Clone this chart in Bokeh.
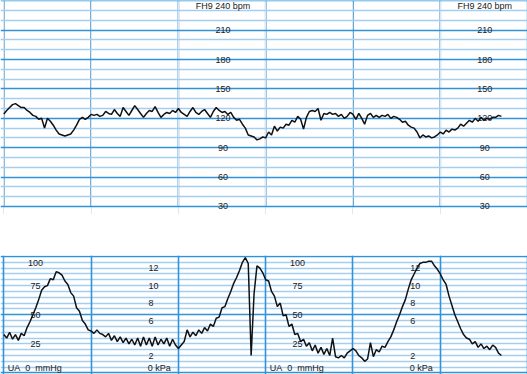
import numpy as np
from bokeh.plotting import figure
from bokeh.models import Grid, FixedTicker, Range1d, ColumnDataSource
from bokeh.layouts import column
from bokeh.embed import file_html
from bokeh.resources import INLINE
from bokeh.core.properties import value

# ---------------- data ----------------
SAMPLE_SECONDS = 2  # one reading every 2 s

# fetal heart rate (bpm), t = 0 .. 342 s
fhr_bpm = [
    124.5, 128, 131, 134, 135, 133, 131, 131, 128, 126, 123, 122, 119, 120, 110, 120,
    117, 113, 108, 104, 103, 102, 103, 104, 108, 113, 119, 121, 119, 121, 124,
    123, 124, 122, 123, 127, 125, 124, 129, 125, 122, 131, 127, 123, 128, 133,
    129, 125, 121, 125, 128, 127, 132, 126, 121, 124, 126, 125, 128, 126, 130,
    126, 124, 122, 127, 131, 126, 124, 127, 129, 125, 121, 127, 131, 128, 126,
    127, 124, 126, 121, 118, 119, 114, 110, 103, 102, 101, 98, 99, 101, 100,
    106, 103, 112, 107, 111, 110, 114, 113, 118, 116, 122, 119, 109, 121, 127,
    128, 127, 130, 118, 125, 124, 126, 124, 125, 122, 124, 120, 122, 126, 124,
    119, 125, 120, 114, 123, 125, 121, 123, 121, 123, 122, 124, 120, 122, 121,
    119, 116, 117, 113, 111, 110, 106, 100, 103, 101, 102, 100, 101, 103, 106,
    104, 108, 106, 109, 108, 110, 114, 112, 115, 118, 116, 120, 117, 121, 118,
    120, 119, 121, 121, 123, 122,
]

# uterine activity (mmHg), t = 0 .. 342 s
ua_mmhg = [
    33, 30, 35, 29, 33, 28, 34, 32, 39, 44, 50, 56, 63, 71, 74, 75,
    81, 80, 87, 86, 84, 79, 76, 69, 66, 56, 53, 45, 42, 37, 36,
    34, 37, 34, 33, 31, 34, 28, 32, 27, 31, 26, 30, 25, 29, 24,
    30, 23, 31, 24, 30, 23, 31, 24, 29, 25, 30, 23, 29, 24, 21,
    24, 27, 37, 31, 35, 32, 37, 34, 39, 36, 42, 40, 47, 48, 56,
    57, 64, 70, 77, 82, 88, 95, 99, 94, 15, 68, 92, 90, 86, 80,
    79, 70, 66, 57, 60, 49, 50, 40, 42, 33, 34, 27, 29, 23, 26,
    19, 24, 17, 22, 16, 21, 15, 30, 14, 13, 15, 13, 17, 19, 21,
    19, 15, 13, 10, 12, 26, 14, 20, 18, 23, 22, 27, 31, 37, 44,
    50, 57, 63, 72, 80, 85, 90, 94, 95, 95, 96, 96, 92, 89, 85,
    80, 76, 66, 58, 50, 44, 38, 33, 30, 29, 25, 27, 22, 25, 21,
    23, 20, 24, 22, 17, 15,
]

fhr_major = [30, 60, 90, 120, 150, 180, 210, 240]
fhr_minor = [40, 50, 70, 80, 100, 110, 130, 140, 160, 170, 190, 200, 220, 230]
fhr_label_values = [210, 180, 150, 120, 90, 60, 30]
fhr_title = "FH9 240 bpm"

ua_major = [0, 50, 100]
ua_minor = [5, 10, 15, 20, 25, 30, 35, 40, 45, 55, 60, 65, 70, 75, 80, 85, 90, 95]
ua_mmhg_labels = [100, 75, 50, 25]
ua_kpa_labels = [12, 10, 8, 6, 2]
ua_mmhg_title = "UA\u00a0\u00a00\u00a0\u00a0mmHg"
ua_kpa_title = "0 kPa"
KPA_TO_MMHG = 7.5

minute_lines = [0, 1, 2, 3, 4, 5, 6]
label_repeat_minutes = [0, 3]  # scale labels repeat every 3 minutes

# ---------------- style ----------------
MAJOR = "#2f93dc"
MINOR = "#a3cdf1"
TRACE = "#111111"
TXT = "#1a1a1a"
FONT = value("Liberation Sans")
FS = "9px"
W = 527

t_fhr = np.arange(len(fhr_bpm)) * SAMPLE_SECONDS / 60.0
t_ua = np.arange(len(ua_mmhg)) * SAMPLE_SECONDS / 60.0
x_range = Range1d(-0.0378, 5.9989)


def base_fig(height, y0, y1, top_border=0):
    p = figure(width=W, height=height, x_range=x_range, y_range=Range1d(y0, y1),
               output_backend="svg", toolbar_location=None,
               x_axis_location=None, y_axis_location=None,
               min_border=0, min_border_top=top_border,
               outline_line_color=None, background_fill_color="white",
               border_fill_color="white")
    return p


def add_grid(p, dim, ticks, color, width):
    g = Grid(dimension=dim, ticker=FixedTicker(ticks=ticks),
             grid_line_color=color, grid_line_width=width)
    p.add_layout(g)


# ---------------- FHR panel ----------------
p1 = base_fig(214, 21.8, 240.31)
add_grid(p1, 1, fhr_minor, MINOR, 1.6)
add_grid(p1, 1, fhr_major, MAJOR, 1.6)
n = len(minute_lines)
p1.segment(x0=minute_lines, x1=minute_lines, y0=[min(fhr_major)] * n,
           y1=[max(fhr_major)] * n, line_color=MAJOR, line_width=1.6, level="underlay")
p1.line(t_fhr, fhr_bpm, line_color=TRACE, line_width=1.5)

lx, ly, lt = [], [], []
for off in label_repeat_minutes:
    for v in fhr_label_values:
        lx.append(2.51 + off)
        ly.append(v)
        lt.append(str(v))
    lx.append(2.51 + off)
    ly.append(234.5)
    lt.append(fhr_title)
p1.text(x="x", y="y", text="t", source=ColumnDataSource(dict(x=lx, y=ly, t=lt)),
        text_font=FONT, text_font_size=FS, text_color=TXT,
        text_align="center", text_baseline="middle")

# ---------------- UA panel ----------------
p2 = base_fig(160, -1.29, 100.86, top_border=41)
add_grid(p2, 1, ua_minor, MINOR, 1.3)
add_grid(p2, 1, ua_major, MAJOR, 1.6)
add_grid(p2, 0, minute_lines, MAJOR, 1.6)
p2.line(t_ua, ua_mmhg, line_color=TRACE, line_width=1.5)

mx, my, mt = [], [], []
kx, ky, kt = [], [], []
for off in label_repeat_minutes:
    for v in ua_mmhg_labels:
        mx.append(0.363 + off)
        my.append(min(v, 94.8))
        mt.append(str(v))
    for v in ua_kpa_labels:
        kx.append(1.657 + off)
        ky.append(v * KPA_TO_MMHG)
        kt.append(str(v))
    kx.append(1.65 + off)
    ky.append(3.9)
    kt.append(ua_kpa_title)
    kx.append(0.046 + off)
    ky.append(4.7)
    kt.append(ua_mmhg_title)
p2.text(x="x", y="y", text="t", source=ColumnDataSource(dict(x=mx, y=my, t=mt)),
        text_font=FONT, text_font_size=FS, text_color=TXT,
        text_align="center", text_baseline="middle")
p2.text(x="x", y="y", text="t", source=ColumnDataSource(dict(x=kx, y=ky, t=kt)),
        text_font=FONT, text_font_size=FS, text_color=TXT,
        text_align="left", text_baseline="middle")

layout = column(p1, p2, spacing=0)
open("out.html", "w").write(file_html(layout, INLINE))
